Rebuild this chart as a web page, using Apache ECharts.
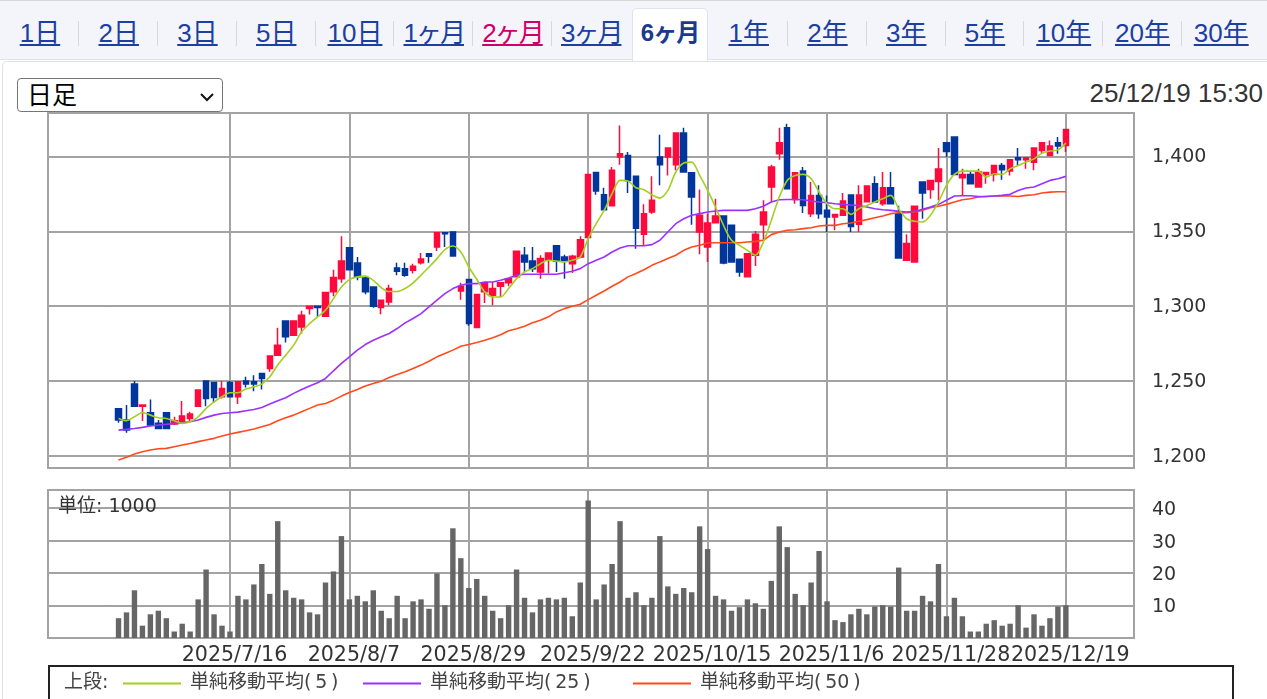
<!DOCTYPE html>
<html lang="ja">
<head>
<meta charset="utf-8">
<title>6ヶ月 日足</title>
<script src="https://cdn.jsdelivr.net/npm/echarts@6/dist/echarts.min.js"></script>
<style>
html, body { margin: 0; padding: 0; width: 1267px; height: 699px; overflow: hidden; background: #fff; }
body { position: relative; font-family: "Liberation Sans", "Noto Sans CJK JP", sans-serif; }
#tabs { position: absolute; left: 0; top: 0; width: 1267px; height: 60px; background: #f3f5fb; border-top: 1px solid #d8d8d8; box-sizing: border-box; border-bottom: 1px solid #dfe3ee; }
#tabs a { position: absolute; top: 14px; width: 78.75px; text-align: center; font-size: 26px; line-height: 36px; color: #1c3fa0; text-decoration: underline; }
#tabs a.visited { color: #cc0066; }
#tabs a.narrow { letter-spacing: -2px; }
#tabs a.on { top: 7px; left: 632px !important; width: 76px; height: 53px; line-height: 48px; box-sizing: border-box; background: #fff; border: 1px solid #dfe3ee; border-bottom: none; border-radius: 5px 5px 0 0; font-weight: bold; font-size: 24px; text-decoration: none; color: #1b3a8e; letter-spacing: -1px; }
#tabs i { position: absolute; top: 20px; width: 1px; height: 25px; background: #d5d8e0; }
#panel { position: absolute; left: 2px; top: 61px; width: 1280px; height: 700px; border: 1px solid #e2e2e2; border-radius: 5px 0 0 0; box-sizing: border-box; }
#period { position: absolute; left: 17px; top: 78px; width: 206px; height: 34px; box-sizing: border-box; font-size: 25px; font-family: "Liberation Sans", "Noto Sans CJK JP", sans-serif; padding: 0 0 0 9px; border: 1px solid #767676; border-radius: 4px; color: #000; appearance: none; -webkit-appearance: none; background: #fff url("data:image/svg+xml,%3Csvg xmlns='http://www.w3.org/2000/svg' width='16' height='10'%3E%3Cpath d='M2 2l6 6 6-6' fill='none' stroke='%23111' stroke-width='2'/%3E%3C/svg%3E") no-repeat 181px 13px; }
#stamp { position: absolute; right: 4px; top: 77px; font-size: 26px; line-height: 32px; color: #333; }
#legendBox { position: absolute; left: 48px; top: 665px; width: 1186px; height: 60px; border: 2px solid #222; box-sizing: border-box; }
#chart { position: absolute; left: 0; top: 0; width: 1267px; height: 699px; }
</style>
</head>
<body>
<div id="tabs"></div>
<div id="panel"></div>
<select id="period"><option>日足</option></select>
<div id="stamp">25/12/19 15:30</div>
<div id="legendBox"></div>
<div id="chart"></div>
<script>
var tabLabels = ['1日','2日','3日','5日','10日','1ヶ月','2ヶ月','3ヶ月','6ヶ月','1年','2年','3年','5年','10年','20年','30年'];

// x positions are candle number (1 = first candle), a grid line every 15 candles
var gridPositions = [15, 30, 45, 60, 75, 90, 105, 120];
var gridDates = ['2025/7/16','2025/8/7','2025/8/29','2025/9/22','2025/10/15','2025/11/6','2025/11/28','2025/12/19'];
var priceTicks = [1200, 1250, 1300, 1350, 1400];
var volumeTicks = [10, 20, 30, 40];

var opens = [
  1231.6,1224,1248,1233.3,1228.9,1221.8,1228.9,1221.3,1222.2,1225.1,
  1233.3,1250,1249.1,1239.6,1249.1,1239.6,1250,1249.6,1255.1,1258.4,
  1267.3,1290.2,1280.7,1286.2,1298.4,1300,1293.3,1309.6,1318.4,1339.1,
  1328.9,1318.9,1312.9,1299.1,1302.9,1325.6,1325.1,1324,1329.1,1335.1,
  1339.6,1349.1,1349.6,1310.2,1317.8,1285.8,1309.6,1307.3,1313.3,1315.6,
  1319.6,1334,1330.2,1322.9,1330.7,1340.4,1332.9,1328.4,1332.9,1345.8,
  1389.3,1374.4,1367.1,1399.6,1400.7,1386.7,1348,1362.9,1399.6,1399.6,
  1394.4,1415.6,1389.1,1349.6,1339.6,1355.8,1360.2,1354,1331.3,1319.6,
  1334,1354.4,1379.6,1401.8,1419.1,1371.3,1390.2,1361.8,1374,1364,
  1359.6,1360.7,1374.2,1354.7,1369.8,1381.8,1368.4,1379.1,1361.8,1330.7,
  1329.6,1382.9,1378,1383.3,1409.1,1412.9,1385.8,1388,1379.6,1388,
  1388,1394,1390.2,1399.1,1397.8,1396.2,1404,1400.7,1409.1,1407.3
];
var closes = [
  1224,1217.3,1233.3,1234,1220.7,1218.4,1218.4,1223.6,1226.7,1228,
  1244,1238.4,1239.1,1245.1,1239.6,1249.6,1248,1248,1251.8,1266.7,
  1274,1279.6,1290.2,1294,1300,1299.1,1309.1,1319.1,1330.2,1324.4,
  1319.6,1309.6,1300,1304,1311.8,1323.3,1320.7,1326.7,1331.6,1333.3,
  1349.1,1348.4,1333.6,1313.3,1288.4,1307.8,1315.6,1311.8,1315.6,1318.4,
  1336.7,1329.6,1325.1,1331.8,1335.6,1330.2,1330.2,1333.3,1344.4,1388,
  1376.9,1364.4,1390.7,1401.8,1384,1352,1361.8,1370.7,1394.4,1405.6,
  1415.6,1389.6,1372.9,1360.7,1355.6,1360.2,1328.9,1329.6,1322.9,1335.1,
  1348,1362.9,1392.9,1409.1,1378.4,1389.1,1367.3,1374,1361.8,1359.6,
  1361.3,1370.2,1353.3,1374.2,1380.2,1369.6,1379.1,1368.4,1332.2,1341.8,
  1366.7,1375.6,1384,1391.6,1403.3,1388,1388,1381.8,1389.6,1389.3,
  1394,1391.1,1397.8,1397.8,1399.1,1405.6,1409.1,1406.9,1406.9,1418
];
var lows = [
  1222.2,1215.6,1233.3,1223.3,1220,1218.4,1218.4,1220.7,1221.3,1222.9,
  1233.3,1233.3,1235.6,1238.4,1239.6,1234.7,1245.8,1243.3,1244.4,1256.2,
  1266.7,1275.8,1280.7,1281.8,1294.4,1292.9,1293.3,1306.7,1315.6,1324.4,
  1317.3,1308,1299,1294.7,1300.7,1320.7,1319.6,1321.8,1327.8,1329.1,
  1336.9,1339.6,1333.6,1304.4,1287,1285.8,1302.2,1300.7,1306.2,1313.3,
  1319.6,1322.9,1322.9,1318.4,1321.8,1322.9,1318.4,1322.2,1332,1345.8,
  1374.4,1364.4,1367.1,1394.4,1375.6,1338.4,1340,1361.8,1380.7,1387.3,
  1390.7,1389.6,1354.4,1334.7,1329.6,1355.8,1328,1329.6,1319.6,1319.6,
  1326.9,1344,1369.6,1397.8,1378.4,1368.4,1362.2,1359.6,1358.4,1349.6,
  1350.7,1360.7,1349.6,1349.6,1369.8,1369.6,1367,1368,1332.2,1330.7,
  1329.6,1358.4,1371.8,1370.7,1399.6,1388,1374,1381.8,1379.6,1381.8,
  1383.3,1384.4,1387.3,1394,1391.8,1390.7,1402,1400.7,1401.8,1402.9
];
var highs = [
  1231.6,1234,1250,1234,1237.8,1224,1228.9,1226.2,1236.7,1229.6,
  1244,1250,1249.1,1250,1250,1250,1252.9,1254,1255.1,1266.7,
  1285.6,1290.2,1290.2,1296.9,1300,1300,1309.1,1324.4,1346.7,1339.1,
  1332.9,1320,1312.9,1304,1314.4,1329.1,1329.1,1328.4,1335.6,1335.1,
  1349.1,1349.1,1350,1315.6,1317.8,1307.8,1315.6,1316.2,1315.6,1318.4,
  1336.7,1339.6,1339.6,1334,1335.6,1340.4,1334.4,1334.4,1346.7,1388,
  1389.3,1379.1,1392.9,1420.7,1402.9,1386.7,1368,1386.7,1414.4,1405.6,
  1415.6,1419.1,1389.1,1378,1361.8,1371.8,1360.2,1354,1331.3,1335.1,
  1350.2,1370.7,1394.4,1419.1,1421.8,1389.1,1392.9,1382.9,1380.7,1374,
  1361.3,1375.6,1374.2,1380.7,1380.2,1386.7,1389.6,1389.6,1367,1348,
  1366.7,1382.9,1384,1405.6,1409.1,1412.9,1391.8,1390,1391.8,1389.3,
  1394,1395.6,1397.8,1405.6,1399.1,1405.6,1409.1,1410.7,1412.9,1418
];
var volumes = [
  6.1,7.9,14.7,3.8,7.3,8.4,6.1,2,4.4,2,
  11.9,21.1,7.3,3.8,2,13,11.9,16.5,22.8,13.6,
  36,14.7,12.4,11.9,7.9,7.3,17.1,20.5,31.4,11.9,
  13,11.3,14.7,8.4,6.1,13,6.1,11.3,11.9,9,
  19.9,10.1,33.8,24.6,15.4,18.2,13,8.4,6.1,10.1,
  21.1,12.4,7.9,11.9,12.4,11.9,12.4,6.7,17.1,42.4,
  11.9,16.5,22.8,36,12.4,14.1,10.1,12.4,31.4,15.9,
  13.6,15.4,14.1,34.4,27.4,13,11.9,8.4,9.5,11.9,
  10.7,9,17.6,34.4,28,13.6,10.1,17.1,26.8,11.3,
  5.5,4.9,7.3,9,7.3,9.7,10.1,9.7,21.7,8.4,
  8.4,13,11.3,22.8,6.7,12.4,6.7,2,2,4.4,
  5.5,3.8,4.4,10.1,3.2,7.3,3.8,6.1,9.7,10.1
];
var ma5 = [
  1225.1,1223.6,1226.2,1229.1,1227.3,1225.6,1225.1,1223.6,1221.8,1222.9,
  1226.2,1231.8,1236.2,1239.6,1242.2,1242.2,1244.7,1246.2,1248,1252.9,
  1260.7,1267.3,1274,1282.9,1288.4,1292.9,1297.3,1305.1,1312.9,1317.8,
  1319.6,1320.2,1317.3,1312.4,1309.8,1309.8,1311.8,1315.6,1320.7,1326.2,
  1331.8,1337.8,1340.2,1336.2,1326.2,1318,1309.6,1306.2,1306.2,1311.8,
  1318.4,1322.9,1325.1,1328.4,1330.7,1330.2,1329.6,1330.7,1332.9,1345.1,
  1355.1,1364,1375.1,1384,1383.6,1379.1,1377.8,1374.4,1372.2,1377.3,
  1389.6,1395.6,1396.2,1387.3,1377.3,1366.2,1354,1344,1340.7,1337.3,
  1334,1342.9,1357.3,1372.9,1384,1387.3,1388,1385.1,1376.2,1368.4,
  1365.1,1365.1,1361.3,1365.1,1367.3,1369.6,1371.8,1374,1365.1,1358.4,
  1356.7,1356.2,1360.7,1369.6,1380.7,1388,1390.2,1390.2,1390.2,1386.2,
  1388.4,1388,1391.8,1394,1396.2,1398.4,1402.2,1403.6,1404.4,1408.9
];
var ma25 = [
  1217.3,1217.8,1218.4,1219.1,1220,1220.7,1221.1,1221.8,1222.4,1222.9,
  1224,1225.8,1227.3,1228.4,1228.9,1229.3,1230.2,1231.1,1232.4,1234.7,
  1236.9,1238.9,1241.8,1244.4,1246.7,1248.9,1251.8,1256.9,1261.8,1266.2,
  1270.7,1274.4,1277.3,1279.6,1281.8,1285.1,1288.9,1291.8,1295.1,1299.6,
  1304,1308.4,1311.8,1314,1315.1,1315.1,1316.2,1316.2,1317.3,1318.9,
  1320.7,1321.3,1321.3,1321.3,1321.3,1321.3,1322.4,1323.3,1325.1,1328.4,
  1330.7,1332.9,1336.2,1338.9,1340.4,1340.4,1340.4,1341.1,1344,1349.6,
  1355.1,1358.4,1360.7,1361.8,1362.9,1363.6,1364,1364,1364,1364,
  1365.1,1366.7,1369.6,1371.1,1371.3,1371.3,1371.1,1370.2,1369.6,1369.1,
  1368.4,1368,1367.6,1367.3,1366.2,1365.1,1364.4,1364,1363.3,1362.9,
  1363.3,1364.7,1366.2,1368,1370.7,1373.6,1373.8,1373.8,1373.3,1373.3,
  1373.6,1374,1374.7,1377.3,1378.9,1379.6,1381.8,1384,1385.1,1386.7
];
var ma50 = [
  1197.3,1199.1,1201.3,1202.9,1204,1204.9,1205.1,1206.2,1207.3,1208.4,
  1209.6,1210.7,1211.8,1213.3,1214.7,1215.8,1216.9,1218,1219.6,1221.1,
  1223.6,1225.6,1227.3,1229.6,1231.8,1234,1235.1,1237.3,1240,1242.4,
  1244.4,1246.7,1248.4,1250,1252.4,1254.4,1256.2,1258.4,1260.7,1263.3,
  1266.2,1268.4,1270.7,1273.3,1274.4,1275.8,1277.3,1279,1281,1283.6,
  1284.9,1286.7,1288.9,1290.7,1292.9,1296.2,1298.4,1300,1301.3,1304.4,
  1307.3,1310.2,1313.3,1316.2,1319.6,1321.8,1324.4,1327.3,1329.6,1331.8,
  1334,1337.3,1339.6,1340.7,1342.2,1342.4,1342.4,1342.4,1342.4,1342.9,
  1343.3,1344,1347.8,1349.6,1350.7,1351.1,1351.8,1352.4,1353.6,1354,
  1354,1355.1,1355.6,1356.7,1357.8,1359.1,1360.2,1361.8,1362.4,1362.4,
  1362.9,1364,1365.8,1366.7,1368,1369.6,1371.1,1371.8,1372.9,1373.3,
  1373.6,1373.6,1373.6,1373.3,1374,1374.4,1375.6,1376.2,1376.4,1376.4
];
var maNames = ['単純移動平均(5)', '単純移動平均(25)', '単純移動平均(50)'];
var maColors = ['#a2d022', '#9b30ff', '#ff4a1c'];

// page furniture around the chart
var tabs = document.getElementById('tabs');
tabLabels.forEach(function (label, i) {
  var a = document.createElement('a');
  a.textContent = label;
  a.style.left = (0.6 + i * 78.75) + 'px';
  if (i === 6) a.className = 'visited narrow';
  else if (i === 5 || i === 7) a.className = 'narrow';
  if (i === 8) a.className = 'on';
  tabs.appendChild(a);
  if (i < tabLabels.length - 1 && i !== 7 && i !== 8) {
    var sep = document.createElement('i');
    sep.style.left = (78.4 + i * 78.75) + 'px';
    tabs.appendChild(sep);
  }
});

var gridGrey = '#a3a3a3';
var labelFont = "'DejaVu Sans', 'Noto Sans CJK JP', sans-serif";
var xMin = -7.86, xMax = 128.56;

function withX(values) {
  return values.map(function (v, i) { return [i + 1, v]; });
}
var candleRows = opens.map(function (o, i) {
  return [i + 1, o, closes[i], lows[i], highs[i]];
});

function xAxisFor(gridIndex, showLabels) {
  return {
    type: 'value', gridIndex: gridIndex, min: xMin, max: xMax, interval: 15,
    axisLine: { show: false },
    axisTick: { show: false, customValues: gridPositions },
    splitLine: { show: true, lineStyle: { color: gridGrey, width: 2 } },
    axisLabel: {
      show: showLabels, customValues: gridPositions, margin: 7,
      color: '#333', fontSize: 20.6, fontFamily: labelFont, padding: [0, 0, 0, 9],
      formatter: function (v) { return gridDates[gridPositions.indexOf(v)]; }
    }
  };
}
function yAxisFor(gridIndex, min, max, interval, ticks, labelDrop, fmt) {
  return {
    type: 'value', gridIndex: gridIndex, position: 'right', min: min, max: max, interval: interval,
    axisLine: { show: false },
    axisTick: { show: true, length: 10, customValues: ticks, lineStyle: { color: gridGrey, width: 2 } },
    splitLine: { show: true, lineStyle: { color: gridGrey, width: 2 } },
    axisLabel: {
      customValues: ticks, margin: 18, color: '#333', fontSize: 19, fontFamily: labelFont,
      verticalAlign: 'top', lineHeight: 2, padding: [labelDrop, 0, 0, 0], formatter: fmt
    }
  };
}

var chart = echarts.init(document.getElementById('chart'));
var option = {
  animation: false,
  backgroundColor: 'transparent',
  title: [
    { text: '単位: 1000', left: 53, top: 493, textStyle: { fontSize: 19, fontWeight: 'normal', color: '#333', fontFamily: labelFont } },
    { text: '上段:', left: 59, top: 669, textStyle: { fontSize: 19, fontWeight: 'normal', color: '#444', fontFamily: labelFont } }
  ],
  legend: maNames.map(function (name, i) {
    return {
      data: [name], left: [118, 358, 628][i], top: 669,
      icon: 'rect', itemWidth: 58, itemHeight: 2, selectedMode: false,
      textStyle: { fontSize: 19, color: '#444', fontFamily: labelFont, padding: [0, 0, 0, 4] },
      // the parentheses sit loose in the reference, thin spaces only for drawing
      formatter: function (n) { return n.replace('(', '(\u2009').replace(')', '\u2009)'); }
    };
  }),
  grid: [
    { left: 48, right: 133, top: 113, height: 355, show: true, borderColor: gridGrey, borderWidth: 2, backgroundColor: 'transparent' },
    { left: 48, right: 133, top: 490, height: 148, show: true, borderColor: gridGrey, borderWidth: 2, backgroundColor: 'transparent' }
  ],
  xAxis: [xAxisFor(0, false), xAxisFor(1, true)],
  yAxis: [
    yAxisFor(0, 1192, 1429, 50, priceTicks, 0, function (v) { return v.toLocaleString('en-US'); }),
    yAxisFor(1, 0, 45.6, 10, volumeTicks, 1, function (v) { return String(v); })
  ],
  series: [
    {
      type: 'candlestick', xAxisIndex: 0, yAxisIndex: 0, barWidth: 6, data: candleRows,
      itemStyle: { color: '#ff0a3c', color0: '#00369b', borderColor: '#ff0a3c', borderColor0: '#00369b', borderWidth: 1.5 }
    },
    { name: maNames[2], type: 'line', xAxisIndex: 0, yAxisIndex: 0, data: withX(ma50), showSymbol: false, lineStyle: { color: maColors[2], width: 1.6 }, itemStyle: { color: maColors[2] } },
    { name: maNames[1], type: 'line', xAxisIndex: 0, yAxisIndex: 0, data: withX(ma25), showSymbol: false, lineStyle: { color: maColors[1], width: 1.6 }, itemStyle: { color: maColors[1] } },
    { name: maNames[0], type: 'line', xAxisIndex: 0, yAxisIndex: 0, data: withX(ma5), smooth: 0.3, showSymbol: false, lineStyle: { color: maColors[0], width: 1.6 }, itemStyle: { color: maColors[0] } },
    { type: 'bar', xAxisIndex: 1, yAxisIndex: 1, barWidth: 5.4, data: withX(volumes), itemStyle: { color: '#666666' } }
  ]
};
chart.setOption(option);
</script>
</body>
</html>
